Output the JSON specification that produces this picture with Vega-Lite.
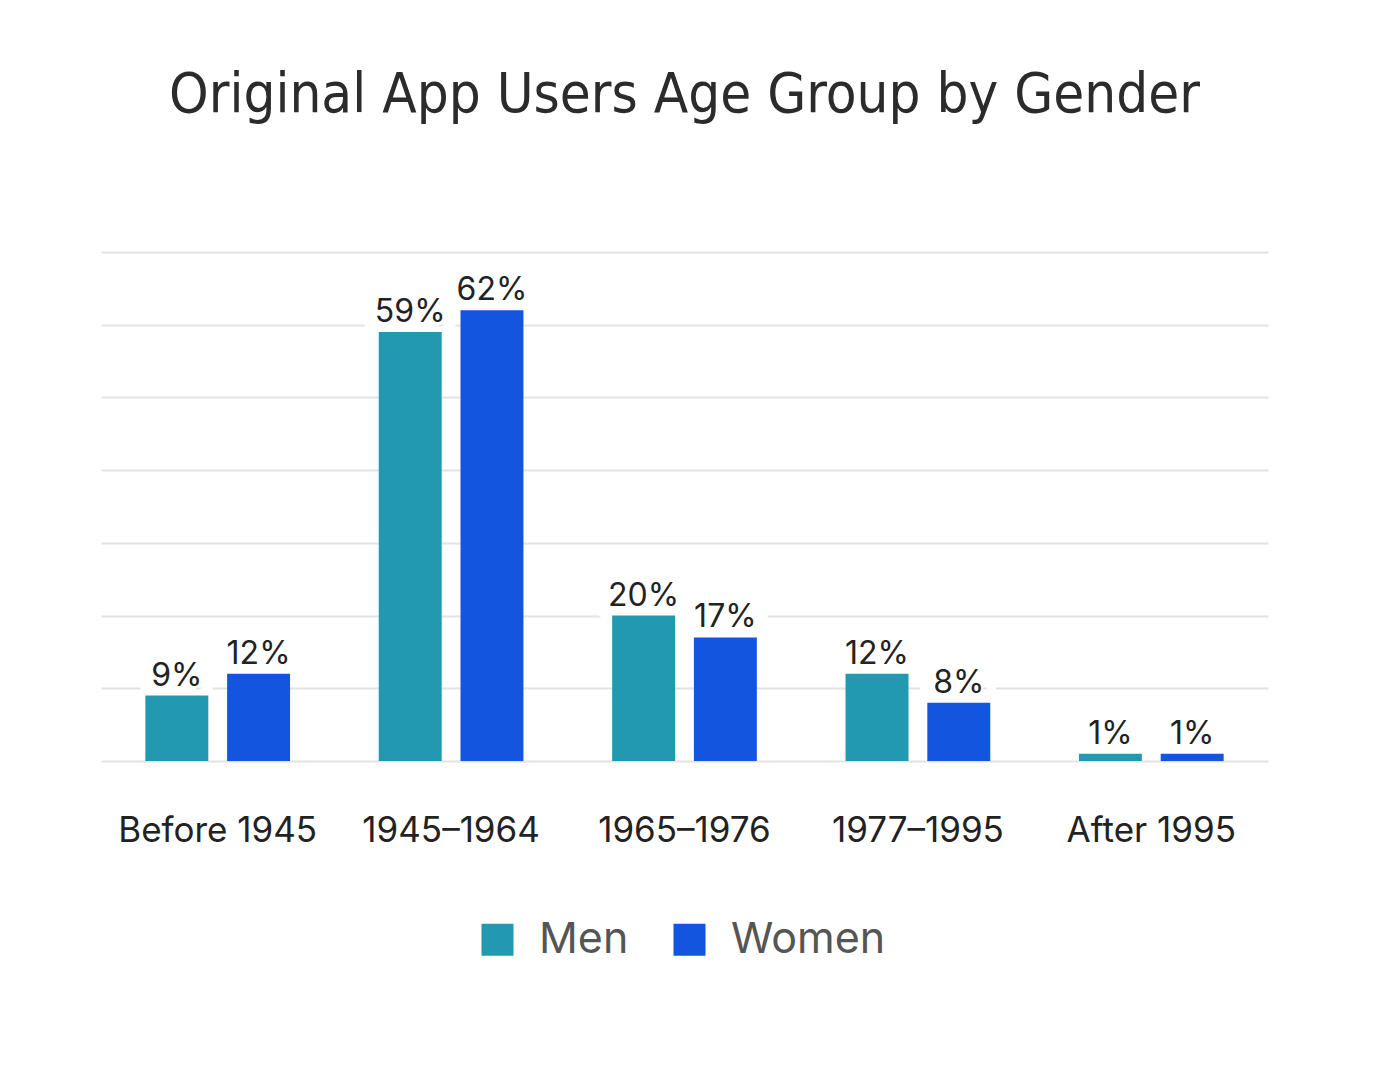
{
  "$schema": "https://vega.github.io/schema/vega-lite/v6.json",
  "width": 1167,
  "height": 509,
  "autosize": {"type": "none"},
  "padding": {"left": 101, "top": 252, "right": 110, "bottom": 317},
  "background": "white",
  "config": {"view": {"stroke": null}},
  "title": {
    "text": "Original App Users Age Group by Gender",
    "fontSize": 56,
    "font": "DejaVu Sans Condensed",
    "fontWeight": "normal",
    "color": "#2b2b2b",
    "anchor": "middle",
    "offset": 128
  },
  "data": {
    "values": [
      {"period": "Before 1945", "gender": "Men", "value": 0.09},
      {"period": "Before 1945", "gender": "Women", "value": 0.12},
      {"period": "1945–1964", "gender": "Men", "value": 0.59},
      {"period": "1945–1964", "gender": "Women", "value": 0.62},
      {"period": "1965–1976", "gender": "Men", "value": 0.20},
      {"period": "1965–1976", "gender": "Women", "value": 0.17},
      {"period": "1977–1995", "gender": "Men", "value": 0.12},
      {"period": "1977–1995", "gender": "Women", "value": 0.08},
      {"period": "After 1995", "gender": "Men", "value": 0.01},
      {"period": "After 1995", "gender": "Women", "value": 0.01}
    ]
  },
  "encoding": {
    "x": {
      "field": "period",
      "type": "nominal",
      "sort": ["Before 1945", "1945–1964", "1965–1976", "1977–1995", "After 1995"],
      "scale": {"paddingInner": 0.38, "paddingOuter": 0.19},
      "axis": {
        "title": null,
        "domain": false,
        "ticks": false,
        "labelAngle": 0,
        "labelFontSize": 35,
        "labelFont": "Inter",
        "labelColor": "#222222",
        "labelPadding": 52,
        "labelLimit": 400
      }
    },
    "xOffset": {
      "field": "gender",
      "type": "nominal",
      "sort": ["Men", "Women"],
      "scale": {"paddingInner": 0.23, "paddingOuter": 0}
    },
    "y": {
      "field": "value",
      "type": "quantitative",
      "scale": {"domain": [0, 0.7], "nice": false},
      "axis": {
        "title": null,
        "labels": false,
        "ticks": false,
        "domain": false,
        "values": [0, 0.1, 0.2, 0.3, 0.4, 0.5, 0.6, 0.7],
        "gridColor": "#e2e2e2",
        "gridWidth": 2
      }
    }
  },
  "layer": [
    {
      "mark": {"type": "text", "baseline": "alphabetic", "dy": -10, "fontSize": 32, "font": "Inter", "stroke": "white", "strokeWidth": 30, "strokeJoin": "round", "fill": "white"},
      "encoding": {"text": {"field": "value", "type": "quantitative", "format": ".0%"}}
    },
    {
      "mark": {"type": "bar"},
      "encoding": {
        "color": {
          "field": "gender",
          "type": "nominal",
          "sort": ["Men", "Women"],
          "scale": {"domain": ["Men", "Women"], "range": ["#2299B1", "#1455E0"]},
          "legend": {
            "title": null,
            "orient": "none",
            "legendX": 375,
            "legendY": 666,
            "direction": "horizontal",
            "symbolType": "square",
            "symbolSize": 1024,
            "symbolStrokeWidth": 0,
            "labelFontSize": 43,
            "labelFont": "Inter",
            "labelColor": "#555555",
            "labelOffset": 20,
            "columnPadding": 39,
            "padding": 0
          }
        }
      }
    },
    {
      "mark": {"type": "text", "baseline": "alphabetic", "dy": -10, "fontSize": 32, "font": "Inter", "color": "#222222"},
      "encoding": {"text": {"field": "value", "type": "quantitative", "format": ".0%"}}
    }
  ]
}
